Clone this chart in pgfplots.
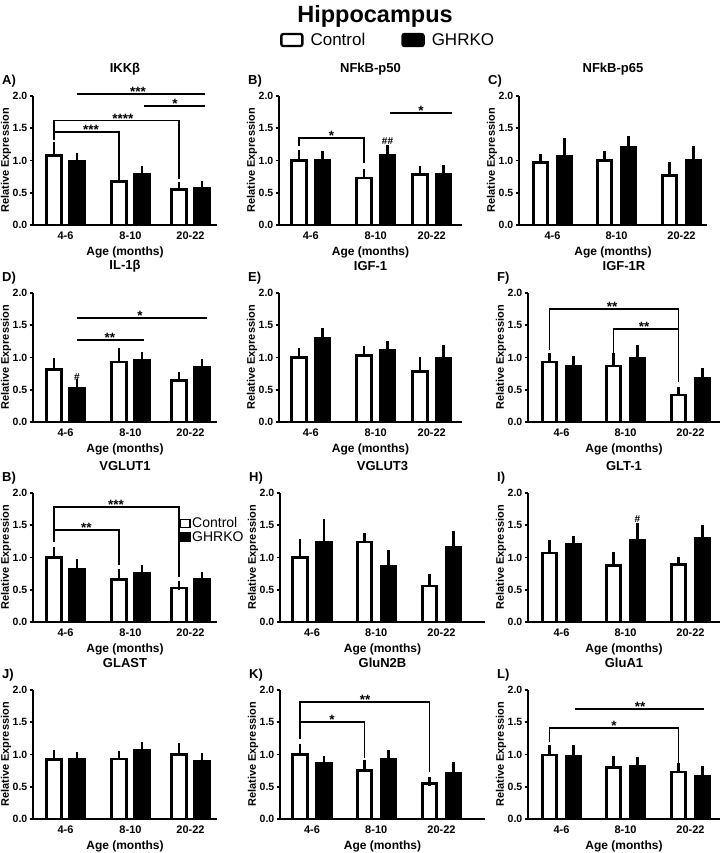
\documentclass[border=0pt]{standalone}
\usepackage{fontspec}
\setmainfont{Liberation Sans}
\usepackage{pgfplots}
\pgfplotsset{compat=1.18}
\newcommand{\fs}[1]{\fontsize{#1}{#1}\selectfont}
\tikzset{
  br/.style={line width=1.9pt, black},
  star/.style={font=\bfseries\fs{13.5}, anchor=base, yshift=-2.5pt, inner sep=0pt},
  hash/.style={font=\bfseries\fs{10}, anchor=center, inner sep=0pt},
  letter/.style={font=\bfseries\fs{13}, anchor=west, xshift=-31pt, yshift=15pt, inner sep=0pt},
}
\pgfplotsset{
  panel/.style={
    scale only axis, height=129pt, ymin=0, ymax=2, xmin=0,
    axis lines=left, axis line style={-, line width=1.6pt, black},
    clip=false,
    ytick={0,0.5,1,1.5,2}, yticklabels={0.0,0.5,1.0,1.5,2.0},
    xticklabels={4-6,8-10,20-22},
    tick align=outside, major tick length=3.5pt,
    y tick style={line width=1.6pt, black},
    x tick style={draw=none},
    yticklabel style={font=\bfseries\fs{10.5}, inner xsep=2pt},
    xticklabel style={font=\bfseries\fs{11}},
    xlabel={Age (months)}, ylabel={Relative Expression},
    every axis x label/.style={at={(axis description cs:0.5,0)}, yshift=-27pt, anchor=center, font=\bfseries\fs{12}},
    every axis y label/.style={at={(axis description cs:0,0.5)}, xshift=-27pt, rotate=90, anchor=center, font=\bfseries\fs{11}},
    title style={at={(axis description cs:0.5,1)}, yshift=21pt, anchor=center, font=\bfseries\fs{13}},
    anchor=south west,
  },
  colA/.style={width=184pt, xmax=184, xtick={32.5,97.5,157.5}},
  colB/.style={width=183pt, xmax=183, xtick={31.75,96.75,152.75}},
  colH/.style={width=205pt, xmax=205, xtick={32,96.25,161.5}},
  colC/.style={width=188pt, xmax=188, xtick={33.5,97.5,162.5}},
  colF/.style={width=192pt, xmax=192, xtick={33.5,97.5,162.5}},
  errs/.style={error bars/y dir=plus, error bars/y explicit,
    error bars/error bar style={line width=2.1pt, black},
    error bars/error mark options={line width=2.1pt, black, mark size=4.5pt}},
  ctrl/.style={ybar, bar width=14.5pt, bar shift=0pt, fill=white, draw=black, line width=2.6pt, errs},
  ko/.style={ybar, bar width=14.5pt, bar shift=0pt, fill=black, draw=black, line width=2.6pt, errs},
  toplegimg/.style={legend image code/.code={\filldraw[##1, line width=2.4pt, rounded corners=2pt] (0pt,-6pt) rectangle (21pt,6pt);}},
  smalllegimg/.style={legend image code/.code={\filldraw[##1, line width=1.8pt] (0pt,-4pt) rectangle (10pt,4pt);}},
}
\begin{document}
\begin{tikzpicture}
\path[use as bounding box] (0,0) rectangle (724pt,-853pt);
\node[font=\bfseries\fs{23.5}] at (375pt,-16pt) {Hippocampus};

% A) IKKb
\begin{axis}[panel, colA, at={(33pt,-225pt)}, title={IKKβ},
  legend columns=2,
  legend style={at={(axis description cs:1.93,1.434)}, anchor=center, draw=none, fill=none, font=\fs{17},
    /tikz/every even column/.append style={column sep=34pt},
    /tikz/every odd column/.append style={column sep=5pt}}]
\addplot[ctrl, toplegimg] coordinates {(21,1.08) +- (0,0.13) (86,0.67) +- (0,0.10) (146,0.55) +- (0,0.04)};
\addplot[ko, toplegimg] coordinates {(44,0.98) +- (0,0.06) (109,0.79) +- (0,0.05) (169,0.57) +- (0,0.04)};
\legend{Control,GHRKO}
\draw[br] (axis cs:44,2.03) -- (axis cs:172,2.03);
\node[star] at (axis cs:105,2.03) {***};
\draw[br] (axis cs:111,1.85) -- (axis cs:172,1.85);
\node[star] at (axis cs:142,1.85) {*};
\draw[br] (axis cs:21,1.32) |- (axis cs:146,1.62) -- (axis cs:146,0.72);
\draw[br] (axis cs:21,1.44) -- (axis cs:86,1.44) -- (axis cs:86,0.78);
\node[star] at (axis cs:58,1.44) {***};
\node[star] at (axis cs:90,1.62) {****};
\node[letter] at (axis description cs:0,1) {A)};
\end{axis}

% B) NFkB-p50
\begin{axis}[panel, colB, at={(279pt,-225pt)}, title={NFkB-p50}]
\addplot[ctrl] coordinates {(20,1.00) +- (0,0.10) (85,0.73) +- (0,0.07) (141,0.78) +- (0,0.07)};
\addplot[ko] coordinates {(43.5,1.00) +- (0,0.07) (108.5,1.08) +- (0,0.09) (164.5,0.79) +- (0,0.065)};
\draw[br] (axis cs:20,1.23) |- (axis cs:85,1.35) -- (axis cs:85,0.96);
\node[star] at (axis cs:52.5,1.35) {*};
\node[hash] at (axis cs:108.5,1.30) {\#\#};
\draw[br] (axis cs:111,1.74) -- (axis cs:173,1.74);
\node[star] at (axis cs:142,1.74) {*};
\node[letter] at (axis description cs:0,1) {B)};
\end{axis}

% C) NFkB-p65
\begin{axis}[panel, colC, at={(519pt,-225pt)}, title={NFkB-p65}]
\addplot[ctrl] coordinates {(21.5,0.97) +- (0,0.06) (85.5,1.00) +- (0,0.08) (150.5,0.77) +- (0,0.13)};
\addplot[ko] coordinates {(45.5,1.06) +- (0,0.22) (109.5,1.20) +- (0,0.11) (174.5,1.00) +- (0,0.15)};
\node[letter] at (axis description cs:0,1) {C)};
\end{axis}

% D) IL-1b
\begin{axis}[panel, colA, at={(33pt,-422pt)}, title={IL-1β}]
\addplot[ctrl] coordinates {(21,0.81) +- (0,0.11) (86,0.93) +- (0,0.15) (146,0.64) +- (0,0.06)};
\addplot[ko] coordinates {(44,0.53) +- (0,0.06) (109,0.95) +- (0,0.07) (169,0.85) +- (0,0.05)};
\draw[br] (axis cs:44,1.61) -- (axis cs:174,1.61);
\node[star] at (axis cs:107,1.61) {*};
\draw[br] (axis cs:44,1.27) -- (axis cs:111,1.27);
\node[star] at (axis cs:77,1.27) {**};
\node[hash] at (axis cs:44,0.70) {\#};
\node[letter] at (axis description cs:0,1) {D)};
\end{axis}

% E) IGF-1
\begin{axis}[panel, colB, at={(279pt,-422pt)}, title={IGF-1}]
\addplot[ctrl] coordinates {(20,1.00) +- (0,0.08) (85,1.03) +- (0,0.08) (141,0.78) +- (0,0.16)};
\addplot[ko] coordinates {(43.5,1.29) +- (0,0.09) (108.5,1.11) +- (0,0.07) (164.5,0.98) +- (0,0.14)};
\node[letter] at (axis description cs:0,1) {E)};
\end{axis}

% F) IGF-1R
\begin{axis}[panel, colF, at={(528pt,-422pt)}, title={IGF-1R}]
\addplot[ctrl] coordinates {(21.5,0.93) +- (0,0.07) (85.5,0.87) +- (0,0.13) (150.5,0.42) +- (0,0.05)};
\addplot[ko] coordinates {(45.5,0.87) +- (0,0.08) (109.5,0.98) +- (0,0.15) (174.5,0.68) +- (0,0.09)};
\draw[br] (axis cs:21.5,1.12) |- (axis cs:150.5,1.75) -- (axis cs:150.5,0.62);
\node[star] at (axis cs:84,1.75) {**};
\draw[br] (axis cs:85.5,1.06) |- (axis cs:150.5,1.44);
\node[star] at (axis cs:116,1.44) {**};
\node[letter] at (axis description cs:0,1) {F)};
\end{axis}

% B) VGLUT1
\begin{axis}[panel, colA, at={(33pt,-622pt)}, title={VGLUT1},
  legend style={at={(axis cs:146,1.64)}, anchor=north west, draw=none, fill=none, font=\fs{14},
    inner sep=0pt, row sep=0pt, cells={anchor=west}, nodes={inner sep=1.2pt},
    /tikz/every odd column/.append style={column sep=0pt}}]
\addplot[ctrl, smalllegimg] coordinates {(21,1.00) +- (0,0.09) (86,0.66) +- (0,0.09) (146,0.53) +- (0,0.04)};
\addplot[ko, smalllegimg] coordinates {(44,0.82) +- (0,0.09) (109,0.75) +- (0,0.07) (169,0.66) +- (0,0.05)};
\legend{Control,GHRKO}
\draw[br] (axis cs:21,1.24) |- (axis cs:146,1.78) -- (axis cs:146,0.70);
\node[star] at (axis cs:83,1.78) {***};
\draw[br] (axis cs:21,1.43) -- (axis cs:86,1.43) -- (axis cs:86,0.88);
\node[star] at (axis cs:53.5,1.43) {**};
\node[letter] at (axis description cs:0,1) {B)};
\end{axis}

% H) VGLUT3
\begin{axis}[panel, colH, at={(280pt,-622pt)}, title={VGLUT3}]
\addplot[ctrl] coordinates {(20,1.00) +- (0,0.21) (84.5,1.24) +- (0,0.07) (149.5,0.56) +- (0,0.12)};
\addplot[ko] coordinates {(44,1.23) +- (0,0.30) (108.5,0.86) +- (0,0.19) (173.5,1.16) +- (0,0.18)};
\node[letter] at (axis description cs:0,1) {H)};
\end{axis}

% I) GLT-1
\begin{axis}[panel, colF, at={(528pt,-622pt)}, title={GLT-1}]
\addplot[ctrl] coordinates {(21.5,1.07) +- (0,0.13) (85.5,0.88) +- (0,0.13) (150.5,0.89) +- (0,0.05)};
\addplot[ko] coordinates {(45.5,1.21) +- (0,0.06) (109.5,1.27) +- (0,0.19) (174.5,1.30) +- (0,0.13)};
\node[hash] at (axis cs:109.5,1.60) {\#};
\node[letter] at (axis description cs:0,1) {I)};
\end{axis}

% J) GLAST
\begin{axis}[panel, colA, at={(33pt,-819pt)}, title={GLAST}]
\addplot[ctrl] coordinates {(21,0.92) +- (0,0.08) (86,0.93) +- (0,0.06) (146,1.00) +- (0,0.11)};
\addplot[ko] coordinates {(44,0.93) +- (0,0.04) (109,1.07) +- (0,0.06) (169,0.90) +- (0,0.05)};
\node[letter] at (axis description cs:0,1) {J)};
\end{axis}

% K) GluN2B
\begin{axis}[panel, colH, at={(280pt,-819pt)}, title={GluN2B}]
\addplot[ctrl] coordinates {(20,1.00) +- (0,0.10) (84.5,0.75) +- (0,0.09) (149.5,0.55) +- (0,0.03)};
\addplot[ko] coordinates {(44,0.86) +- (0,0.05) (108.5,0.92) +- (0,0.08) (173.5,0.71) +- (0,0.10)};
\draw[br] (axis cs:20,1.24) |- (axis cs:149.5,1.82) -- (axis cs:149.5,0.73);
\node[star] at (axis cs:85,1.82) {**};
\draw[br] (axis cs:20,1.51) -- (axis cs:84.5,1.51) -- (axis cs:84.5,0.95);
\node[star] at (axis cs:52,1.51) {*};
\node[letter] at (axis description cs:0,1) {K)};
\end{axis}

% L) GluA1
\begin{axis}[panel, colF, at={(528pt,-819pt)}, title={GluA1}]
\addplot[ctrl] coordinates {(21.5,0.99) +- (0,0.08) (85.5,0.80) +- (0,0.10) (150.5,0.73) +- (0,0.07)};
\addplot[ko] coordinates {(45.5,0.97) +- (0,0.10) (109.5,0.82) +- (0,0.07) (174.5,0.66) +- (0,0.09)};
\draw[br] (axis cs:47,1.70) -- (axis cs:176,1.70);
\node[star] at (axis cs:112,1.70) {**};
\draw[br] (axis cs:21.5,1.20) |- (axis cs:150.5,1.41) -- (axis cs:150.5,0.86);
\node[star] at (axis cs:86,1.41) {*};
\node[letter] at (axis description cs:0,1) {L)};
\end{axis}
\end{tikzpicture}
\end{document}
